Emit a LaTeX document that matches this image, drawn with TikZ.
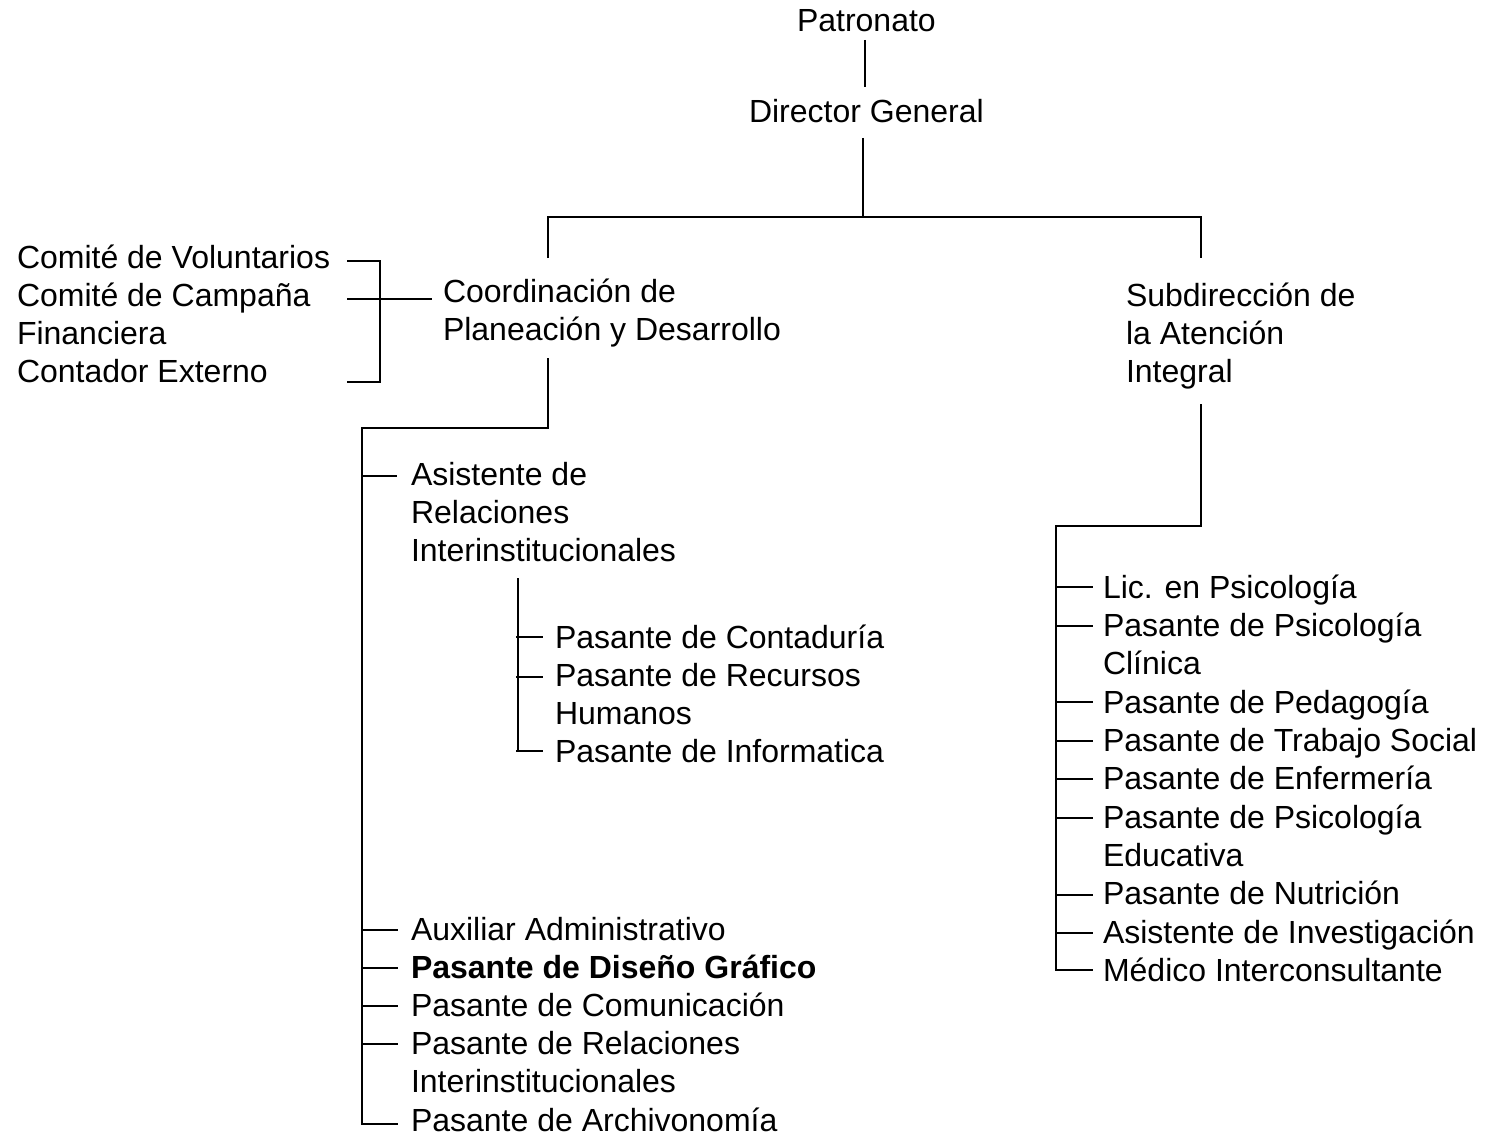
\documentclass[tikz,border=0pt]{standalone}
\usepackage{fontspec}
\setmainfont{Liberation Sans}
\newcommand{\ml}[1]{\begin{tabular}[t]{@{}l@{}}#1\end{tabular}}
\begin{document}
\begin{tikzpicture}[x=1pt,y=-1pt,
  lbl/.style={anchor=base west,inner sep=0pt,outer sep=0pt,font=\fontsize{32}{38}\selectfont},
  ln/.style={line width=1.7pt,line cap=butt}]
\useasboundingbox[fill=white] (0,0) rectangle (1492,1137);
% text nodes
\node[lbl] (pat) at (797,32) {Patronato};
\node[lbl] (dg) at (749,123) {Director General};
\node[lbl] (coord) at (443,302) {\ml{Coordinación de\\Planeación y Desarrollo}};
\node[lbl] (sub) at (1126,306) {\ml{Subdirección de\\la Atención\\Integral}};
\node[lbl] (com) at (17,268) {\ml{Comité de Voluntarios\\Comité de Campaña\\Financiera\\Contador Externo}};
\node[lbl] (asis) at (411,485) {\ml{Asistente de\\Relaciones\\Interinstitucionales}};
\node[lbl] (pc) at (555,648) {Pasante de Contaduría};
\node[lbl] (prh) at (555,686) {\ml{Pasante de Recursos\\Humanos}};
\node[lbl] (pinf) at (555,762) {Pasante de Informatica};
\node[lbl] (aux) at (411,940) {Auxiliar Administrativo};
\node[lbl] (pdg) at (411,978) {\bfseries Pasante de Diseño Gráfico};
\node[lbl] (pcom) at (411,1016) {Pasante de Comunicación};
\node[lbl] (prel) at (411,1054) {\ml{Pasante de Relaciones\\Interinstitucionales}};
\node[lbl] (parch) at (411,1131) {Pasante de Archivonomía};
\node[lbl] (lic) at (1103,598) {Lic. en Psicología};
\node[lbl] (ppc) at (1103,636) {\ml{Pasante de Psicología\\Clínica}};
\node[lbl] (pped) at (1103,713) {Pasante de Pedagogía};
\node[lbl] (pts) at (1103,751) {Pasante de Trabajo Social};
\node[lbl] (penf) at (1103,789) {Pasante de Enfermería};
\node[lbl] (ppe) at (1103,828) {\ml{Pasante de Psicología\\Educativa}};
\node[lbl] (pnut) at (1103,904) {Pasante de Nutrición};
\node[lbl] (ainv) at (1103,943) {Asistente de Investigación};
\node[lbl] (med) at (1103,981) {Médico Interconsultante};
% junction coordinates
\coordinate (patB) at (865,40);
\coordinate (dgT) at (865,87);
\coordinate (dgB) at (863,138);
\coordinate (hub) at (863,217);
\coordinate (hL) at (548,217);
\coordinate (hR) at (1201,217);
\coordinate (coordT) at (548,258);
\coordinate (subT) at (1201,258);
% coordination branch
\coordinate (coordB) at (548,358);
\coordinate (cL) at (548,428);
\coordinate (vL) at (362,428);
\coordinate (vLb) at (362,1124);
\coordinate (vLasis) at (362,476);
\coordinate (vLaux) at (362,930);
\coordinate (vLpdg) at (362,968);
\coordinate (vLpcom) at (362,1006);
\coordinate (vLprel) at (362,1044);
\coordinate (asisB) at (518,578);
\coordinate (sB) at (518,751);
\coordinate (spc) at (518,637);
\coordinate (sprh) at (518,677);
% committees
\coordinate (cv) at (380,261);
\coordinate (cc) at (380,299);
\coordinate (ce) at (380,382);
\coordinate (coordL) at (432,299);
% subdireccion branch
\coordinate (subB) at (1201,404);
\coordinate (rH) at (1201,526);
\coordinate (vR) at (1056,526);
\coordinate (vRb) at (1056,970);
% main tree
\draw[ln] (patB) -- (dgT);
\draw[ln] (dgB) -- (hub);
\draw[ln] (coordT) -- (hL) -- (hR) -- (subT);
% coordination branch
\draw[ln] (coordB) -- (cL) -- (vL) -- (vLb) -- ([xshift=-13pt]vLb -| parch.west);
\draw[ln] (vLasis) -- ([xshift=-14pt]vLasis -| asis.west);
\draw[ln] (vLaux) -- ([xshift=-13pt]vLaux -| aux.west);
\draw[ln] (vLpdg) -- ([xshift=-13pt]vLpdg -| pdg.west);
\draw[ln] (vLpcom) -- ([xshift=-13pt]vLpcom -| pcom.west);
\draw[ln] (vLprel) -- ([xshift=-13pt]vLprel -| prel.west);
% sub-branch under Asistente
\draw[ln] (asisB) -- (sB);
\draw[ln] ([xshift=-2pt]spc) -- ([xshift=-12pt]spc -| pc.west);
\draw[ln] ([xshift=-2pt]sprh) -- ([xshift=-12pt]sprh -| prh.west);
\draw[ln] ([xshift=-2pt]sB) -- ([xshift=-12pt]sB -| pinf.west);
% committees
\draw[ln] ([xshift=-33pt]cv) -- (cv) -- (ce) -- ([xshift=-33pt]ce);
\draw[ln] ([xshift=-33pt]cc) -- (cc) -- (coordL);
% subdireccion branch
\draw[ln] (subB) -- (rH) -- (vR) -- (vRb) -- ([xshift=-10pt]vRb -| med.west);
\foreach \n/\y in {lic/587,ppc/626,pped/702,pts/741,penf/779,ppe/818,pnut/895,ainv/933}
  \draw[ln] (1056,\y) -- ([xshift=-10pt]\n.west |- 0,\y);
\end{tikzpicture}
\end{document}
